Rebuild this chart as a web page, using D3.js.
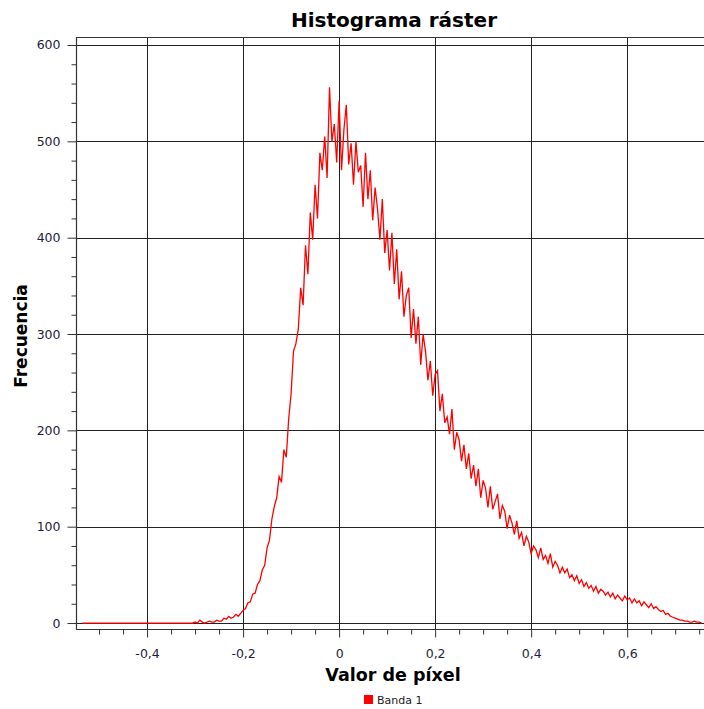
<!DOCTYPE html>
<html><head><meta charset="utf-8">
<script src="https://cdn.jsdelivr.net/npm/d3@7"></script>
<style>body{margin:0;background:#fff} svg{display:block}</style>
</head><body><svg id="c" width="704" height="709"></svg>
<script>
const chartTitle = "Histograma ráster";
const xLabel = "Valor de píxel";
const yLabel = "Frecuencia";
const seriesName = "Banda 1";
const binStart = -0.535;
const binWidth = 0.005;
const frequencies = [
  0,0,0,0,0,0,0,0,0,0,
  0,0,0,0,0,0,0,0,0,0,
  0,0,0,0,0,0,0,0,0,0,
  0,0,0,0,0,0,0,0,0,0,
  0,0,0,0,0,0,0,1,0,3,
  1,0,1,2,1,1,3,2,2,5,
  4,7,5,6,9,7,10,13,15,21,
  22,30,31,40,44,55,60,78,86,108,
  121,130,152,146,180,172,212,238,282,290,
  305,348,330,392,362,426,398,455,420,488,
  470,505,462,556,500,518,478,542,470,512,
  538,476,498,455,500,468,475,432,488,440,
  470,418,452,430,398,440,384,408,366,405,
  352,388,336,365,318,340,348,296,326,290,
  318,268,300,282,252,272,236,258,262,220,
  238,208,214,196,222,180,198,190,168,185,
  160,176,150,164,142,160,130,148,140,120,
  142,118,126,134,108,122,116,98,112,104,
  92,106,88,94,80,90,84,72,80,76,
  68,78,66,70,62,72,58,64,60,52,
  58,52,56,47,50,44,49,41,45,38,
  42,36,39,33,38,31,35,33,29,32,
  27,31,25,29,26,23,28,24,26,21,
  25,21,23,18,22,19,16,20,15,17,
  14,12,13,9,10,7,6,5,4,3,
  3,2,2,1,1,2,1,1,0
];
const xTickValues = [-0.4, -0.2, 0, 0.2, 0.4, 0.6];
const xMinorTickValues = [-0.5,-0.45,-0.35,-0.3,-0.25,-0.15,-0.1,-0.05,0.05,0.1,0.15,0.25,0.3,0.35,0.45,0.5,0.55,0.65,0.7,0.75];
const yTickValues = [0, 100, 200, 300, 400, 500, 600];
const yMinorTickValues = [20,40,60,80,120,140,160,180,220,240,260,280,320,340,360,380,420,440,460,480,520,540,560,580];

const svg = d3.select("#c");
const L = 76, R = 704, T = 37, B = 629;
const x = d3.scaleLinear().domain([-0.548, 0.760]).range([L, R]);
const y = d3.scaleLinear().domain([-6.2, 608.3]).range([B, T]);
const fmt = d => String(d).replace(".", ",");
const font = "'DejaVu Sans', Verdana, sans-serif";

// grid
const g = svg.append("g");
g.selectAll("line.gx").data(xTickValues).join("line")
  .attr("x1", d => Math.round(x(d)) + 0.5).attr("x2", d => Math.round(x(d)) + 0.5)
  .attr("y1", T).attr("y2", B).attr("stroke", "#222").attr("stroke-width", 1);
g.selectAll("line.gy").data(yTickValues).join("line")
  .attr("y1", d => Math.round(y(d)) + 0.5).attr("y2", d => Math.round(y(d)) + 0.5)
  .attr("x1", L).attr("x2", R).attr("stroke", "#222").attr("stroke-width", 1);
// top frame
svg.append("line").attr("x1", L).attr("x2", R).attr("y1", T + 0.5).attr("y2", T + 0.5)
  .attr("stroke", "#333").attr("stroke-width", 1.2);

// series
const line = d3.line()
  .x((d, i) => x(binStart + i * binWidth))
  .y(d => y(d));
svg.append("path").datum(frequencies).attr("d", line)
  .attr("fill", "none").attr("stroke", "#ff0000").attr("stroke-width", 1.3)
  .attr("stroke-linejoin", "miter");

// axes
function styleAxis(sel) {
  sel.selectAll("path.domain").attr("stroke", "#333").attr("stroke-width", 1.2);
  sel.selectAll(".tick line").attr("stroke", "#333");
  sel.selectAll("text").attr("fill", "#1e1e3c").style("font-family", font).style("font-size", "12.5px");
}
const yAxis = svg.append("g").attr("transform", `translate(${L + 0.5},0)`)
  .call(d3.axisLeft(y).tickValues(yTickValues).tickSize(9).tickSizeOuter(0).tickPadding(7).tickFormat(fmt));
yAxis.select("path.domain").attr("d", `M0,${T}V${B}`);
styleAxis(yAxis);
const yMinor = svg.append("g").attr("transform", `translate(${L + 0.5},0)`)
  .call(d3.axisLeft(y).tickValues(yMinorTickValues).tickSize(5).tickFormat(""));
yMinor.select("path.domain").remove();
styleAxis(yMinor);

const xAxis = svg.append("g").attr("transform", `translate(0,${B + 0.5})`)
  .call(d3.axisBottom(x).tickValues(xTickValues).tickSize(8).tickSizeOuter(0).tickPadding(12).tickFormat(fmt));
xAxis.select("path.domain").attr("d", `M${L},0H${R}`);
styleAxis(xAxis);
const xMinor = svg.append("g").attr("transform", `translate(0,${B + 0.5})`)
  .call(d3.axisBottom(x).tickValues(xMinorTickValues).tickSize(5).tickFormat(""));
xMinor.select("path.domain").remove();
styleAxis(xMinor);

// titles
svg.append("text").attr("x", 394).attr("y", 27).attr("text-anchor", "middle")
  .style("font-family", font).style("font-weight", "bold").style("font-size", "20px")
  .attr("fill", "#000").text(chartTitle);
svg.append("text").attr("x", 393).attr("y", 681).attr("text-anchor", "middle")
  .style("font-family", font).style("font-weight", "bold").style("font-size", "17.5px")
  .attr("fill", "#000").text(xLabel);
svg.append("text").attr("transform", "translate(27,336) rotate(-90)").attr("text-anchor", "middle")
  .style("font-family", font).style("font-weight", "bold").style("font-size", "17px")
  .attr("fill", "#000").text(yLabel);

// legend
const lg = svg.append("g").attr("transform", "translate(364,695)");
lg.append("rect").attr("width", 9).attr("height", 9).attr("fill", "#ff0000");
lg.append("text").attr("x", 13).attr("y", 9).style("font-family", font).style("font-size", "11px")
  .attr("fill", "#222").text(seriesName);
</script>
</body></html>
